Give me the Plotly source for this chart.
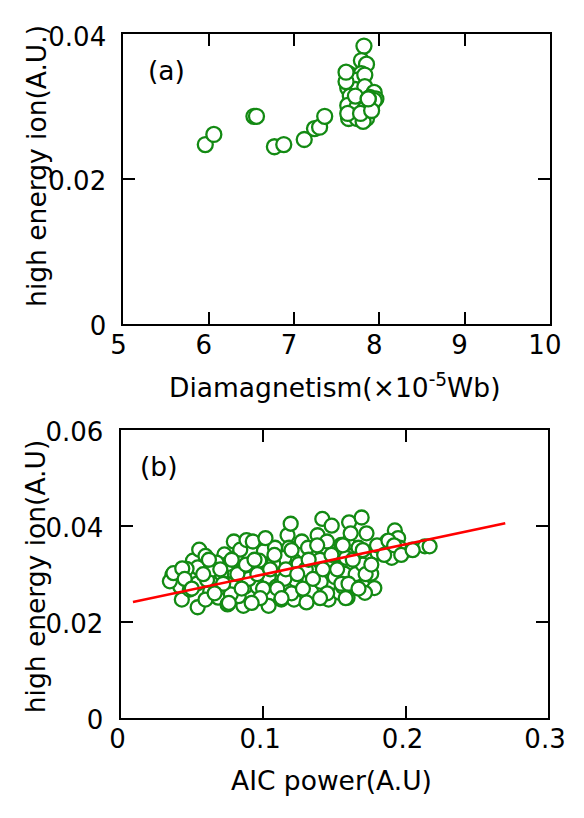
import plotly.graph_objects as go

# ---------------- Panel (a) data ----------------
diamag = [5.96, 6.06, 6.53, 6.56, 6.77, 6.88, 7.12, 7.24, 7.30, 7.36,
          7.82, 7.79, 7.85, 7.64, 7.79, 7.66, 7.74, 7.83, 7.63, 7.72,
          7.83, 7.66, 7.94, 7.89, 7.96, 7.63, 7.74, 7.83, 7.91, 7.64,
          7.74, 7.85, 7.81, 7.63, 7.78, 7.61, 7.61, 7.72, 7.94, 7.87,
          7.91, 7.87]
ion_a = [0.0248, 0.0262, 0.0287, 0.0287, 0.0245, 0.0248, 0.0255, 0.0270, 0.0272, 0.0287,
         0.0384, 0.0364, 0.0359, 0.0346, 0.0346, 0.0339, 0.0337, 0.0344, 0.0326, 0.0324,
         0.0328, 0.0315, 0.0320, 0.0313, 0.0311, 0.0302, 0.0300, 0.0297, 0.0302, 0.0284,
         0.0284, 0.0284, 0.0280, 0.0291, 0.0291, 0.0335, 0.0348, 0.0315, 0.0309, 0.0311,
         0.0295, 0.0311]

# ---------------- Panel (b) data ----------------
aic = [0.0364, 0.0419, 0.0430, 0.0508, 0.0541, 0.0552, 0.0596, 0.0541, 0.0652, 0.0629,
       0.0685, 0.0729, 0.0718, 0.0751, 0.0795, 0.0807, 0.0795, 0.0840, 0.0884, 0.0873,
       0.0862, 0.0751, 0.0674, 0.0541, 0.0463, 0.0607, 0.0829, 0.0895, 0.0707, 0.0774,
       0.0486, 0.0596,
       0.0928, 0.0918, 0.0961, 0.1006, 0.1017, 0.1039, 0.1039, 0.1084, 0.1094, 0.1128,
       0.1128, 0.1172, 0.1183, 0.1194, 0.1217, 0.1227, 0.1217, 0.1250, 0.1272, 0.1316,
       0.1327, 0.1338, 0.1383, 0.1416, 0.1449, 0.1482, 0.1471, 0.1460, 0.1504, 0.1516,
       0.1549, 0.1371, 0.1150, 0.0973, 0.1072, 0.1305, 0.1405, 0.1538, 0.1017,
       0.1604, 0.1692, 0.1726, 0.1593, 0.1615, 0.1670, 0.1659, 0.1582, 0.1748, 0.1571,
       0.1704, 0.1781, 0.1593, 0.1715, 0.1837, 0.1870, 0.1925, 0.1948, 0.1903, 0.1958,
       0.2047, 0.2136, 0.2169, 0.1803, 0.1560, 0.1759,
       0.0346, 0.0371, 0.0433, 0.0650, 0.0900, 0.1000, 0.1150, 0.1300, 0.1400, 0.1200,
       0.1550, 0.1650, 0.1700,
       0.0450, 0.0500, 0.0580, 0.0620, 0.0700, 0.0720, 0.0780, 0.0820, 0.0850, 0.0880,
       0.0940, 0.0960, 0.0980, 0.1050, 0.1080, 0.1100, 0.1160, 0.1200, 0.1240, 0.1280,
       0.1320, 0.1350, 0.1380, 0.1420, 0.1450, 0.1480, 0.1520, 0.1560, 0.1600, 0.1630,
       0.1670, 0.1700, 0.1720, 0.1760, 0.1800, 0.1850, 0.1880, 0.1920, 0.1970, 0.2050,
       0.0660, 0.0760, 0.0920, 0.1130, 0.1400, 0.1580]
ion_b = [0.0298, 0.0274, 0.0247, 0.0328, 0.0314, 0.0351, 0.0338, 0.0281, 0.0294, 0.0264,
         0.0251, 0.0341, 0.0274, 0.0237, 0.0304, 0.0334, 0.0368, 0.0351, 0.0371, 0.0274,
         0.0234, 0.0321, 0.0324, 0.0231, 0.0311, 0.0288, 0.0254, 0.0308, 0.0301, 0.0258,
         0.0268, 0.0247,
         0.0368, 0.0308, 0.0274, 0.0348, 0.0318, 0.0294, 0.0234, 0.0355, 0.0274, 0.0247,
         0.0308, 0.0381, 0.0355, 0.0405, 0.0328, 0.0288, 0.0247, 0.0321, 0.0368, 0.0355,
         0.0308, 0.0264, 0.0381, 0.0415, 0.0368, 0.0401, 0.0314, 0.0247, 0.0294, 0.0341,
         0.0361, 0.0334, 0.0334, 0.0328, 0.0321, 0.0241, 0.0284, 0.0261, 0.0375,
         0.0408, 0.0418, 0.0385, 0.0365, 0.0385, 0.0355, 0.0331, 0.0334, 0.0328, 0.0301,
         0.0274, 0.0271, 0.0251, 0.0261, 0.0358, 0.0368, 0.0391, 0.0375, 0.0334, 0.0355,
         0.0351, 0.0358, 0.0358, 0.0345, 0.0274, 0.0301,
         0.0285, 0.0302, 0.0312, 0.0310, 0.0290, 0.0270, 0.0290, 0.0310, 0.0330, 0.0260,
         0.0280, 0.0300, 0.0320,
         0.0290, 0.0270, 0.0300, 0.0330, 0.0310, 0.0280, 0.0330, 0.0300, 0.0270, 0.0320,
         0.0330, 0.0300, 0.0250, 0.0310, 0.0340, 0.0270, 0.0310, 0.0350, 0.0300, 0.0270,
         0.0330, 0.0290, 0.0360, 0.0310, 0.0260, 0.0340, 0.0310, 0.0360, 0.0280, 0.0330,
         0.0270, 0.0350, 0.0300, 0.0320, 0.0360, 0.0340, 0.0370, 0.0360, 0.0340, 0.0350,
         0.0260, 0.0240, 0.0240, 0.0250, 0.0250, 0.0250]

# linear fit line (end points)
fit_x = [0.0087, 0.270]
fit_y = [0.0242, 0.0406]

# ticks
xa_ticks = [5, 6, 7, 8, 9, 10]
ya_ticks = [0, 0.02, 0.04]
ya_text = ["0", "0.02", "0.04"]
xb_ticks = [0, 0.1, 0.2, 0.3]
xb_text = ["0", "0.1", "0.2", "0.3"]
yb_ticks = [0, 0.02, 0.04, 0.06]
yb_text = ["0", "0.02", "0.04", "0.06"]

GREEN = "#138a13"
FONT = "DejaVu Sans"
TICKF = dict(family=FONT, size=26, color="black")
TITLEF = dict(family=FONT, size=26.5, color="black")
W, H = 584, 818

fig = go.Figure()
fig.add_trace(go.Scatter(
    x=diamag, y=ion_a, mode="markers", xaxis="x", yaxis="y",
    marker=dict(size=15, color="white", line=dict(color=GREEN, width=2.3)),
    showlegend=False))
fig.add_trace(go.Scatter(
    x=aic, y=ion_b, mode="markers", xaxis="x2", yaxis="y2",
    marker=dict(size=14, color="white", line=dict(color=GREEN, width=2.3)),
    showlegend=False))
fig.add_trace(go.Scatter(
    x=fit_x, y=fit_y, mode="lines", xaxis="x2", yaxis="y2",
    line=dict(color="#ff0000", width=2.5), showlegend=False))

axis_common = dict(showline=True, linewidth=2, linecolor="black", mirror="ticks",
                   ticks="inside", ticklen=12, tickwidth=2, tickcolor="black",
                   showgrid=False, zeroline=False, tickfont=TICKF)
x_extra = dict(ticklabelstandoff=-3)
y_extra = dict(ticklabelstandoff=10, ticklabelshift=2)


def px_dom(a, b):
    return [a / W, b / W]


def py_dom(top, bottom):
    return [1 - bottom / H, 1 - top / H]


fig.update_layout(
    width=W, height=H,
    margin=dict(l=0, r=0, t=0, b=0),
    paper_bgcolor="white", plot_bgcolor="white",
    xaxis=dict(domain=px_dom(116.6, 567), range=[5, 10], tickvals=xa_ticks,
               anchor="y", ticklabelshift=-5, **x_extra, **axis_common),
    yaxis=dict(domain=py_dom(22.3, 323), range=[0, 0.04], tickvals=ya_ticks,
               ticktext=ya_text, anchor="x", **y_extra, **axis_common),
    xaxis2=dict(domain=px_dom(113.6, 565), range=[0, 0.3], tickvals=xb_ticks,
                ticktext=xb_text, anchor="y2", ticklabelshift=-3, **x_extra,
                **axis_common),
    yaxis2=dict(domain=py_dom(433, 732), range=[0, 0.06], tickvals=yb_ticks,
                ticktext=yb_text, anchor="x2", **y_extra, **axis_common),
    annotations=[
        dict(text="Diamagnetism(×10<sup>-5</sup>Wb)", xref="paper", yref="paper",
             x=339 / W, y=1 - 387 / H, showarrow=False, font=TITLEF,
             xanchor="center", yanchor="middle"),
        dict(text="high energy ion(A.U.)", xref="paper", yref="paper",
             x=24 / W, y=1 - 159 / H, showarrow=False, font=TITLEF,
             textangle=-90, xanchor="center", yanchor="middle"),
        dict(text="AIC power(A.U)", xref="paper", yref="paper",
             x=336 / W, y=1 - 797 / H, showarrow=False, font=TITLEF,
             xanchor="center", yanchor="middle"),
        dict(text="high energy ion(A.U)", xref="paper", yref="paper",
             x=24 / W, y=1 - 585 / H, showarrow=False, font=TITLEF,
             textangle=-90, xanchor="center", yanchor="middle"),
        dict(text="(a)", xref="paper", yref="paper",
             x=162 / W, y=1 - 60 / H, showarrow=False, font=TITLEF,
             xanchor="center", yanchor="middle"),
        dict(text="(b)", xref="paper", yref="paper",
             x=154 / W, y=1 - 471 / H, showarrow=False, font=TITLEF,
             xanchor="center", yanchor="middle"),
    ],
)

fig.write_html("out.html", config={"displayModeBar": False},
               post_script="document.body.style.margin='0';")
